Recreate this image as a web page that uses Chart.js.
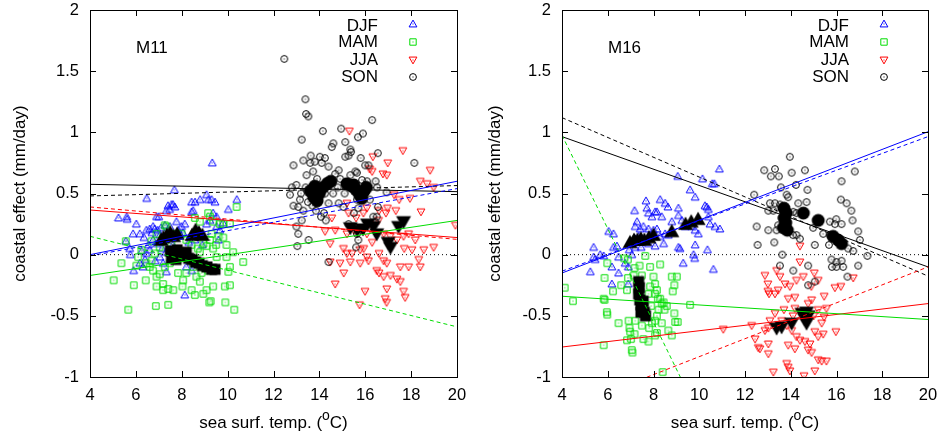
<!DOCTYPE html>
<html>
<head>
<meta charset="utf-8">
<script src="https://cdn.jsdelivr.net/npm/chart.js"></script>
<style>
  body { margin: 0; background: #fff; }
  .p { position: absolute; top: 0; height: 437px; }
</style>
</head>
<body>
<div class="p" style="left:0;width:475px"><canvas id="c1" width="475" height="437"></canvas></div>
<div class="p" style="left:475px;width:474px"><canvas id="c2" width="474" height="437"></canvas></div>
<script>
const xTicks = [4, 6, 8, 10, 12, 14, 16, 18, 20];
const yTicks = [-1, -0.5, 0, 0.5, 1, 1.5, 2];
const seasons = ['DJF', 'MAM', 'JJA', 'SON'];
const fitX = [4, 20];

// ---- M11 ----
const m11Djf = [[9.33,0.75],[7.68,0.53],[6.47,0.46],[5.24,0.30],[5.60,0.31],[5.62,0.29],[6.02,0.25],[5.88,0.17],[6.17,0.17],[5.56,0.11],[5.73,0.05],[5.76,0.00],[5.90,-0.13],[6.46,0.20],[6.60,0.21],[6.75,0.23],[6.82,0.21],[6.90,0.31],[7.00,0.31],[7.33,0.36],[7.40,0.40],[7.47,0.37],[7.55,0.41],[7.62,0.41],[7.70,0.39],[8.43,0.43],[8.58,0.43],[8.80,0.45],[9.08,0.49],[9.16,0.45],[9.30,0.45],[9.45,0.43],[8.43,0.35],[8.50,0.36],[9.37,0.34],[9.52,0.31],[10.03,0.37],[10.40,0.45],[7.99,0.23],[8.13,0.25],[7.77,0.27],[7.26,0.24],[7.48,0.23],[6.75,0.12],[6.90,0.09],[6.60,0.04],[6.46,0.01],[6.17,-0.07],[6.31,-0.10],[7.04,-0.02],[7.19,-0.07],[7.33,-0.14],[8.20,-0.10],[8.43,-0.13],[8.13,-0.33],[8.57,0.12],[8.79,0.17],[9.08,0.25],[9.23,0.28],[9.52,0.23],[9.66,0.20],[8.64,0.20],[7.92,0.17],[7.04,0.16],[6.35,0.14],[6.55,0.08],[7.15,0.05],[7.60,0.08],[8.30,0.10],[9.80,0.26],[6.25,0.03],[6.70,0.18],[6.95,0.20],[7.10,0.22],[7.85,0.20],[8.05,0.18],[7.30,0.02],[6.85,-0.05],[6.40,-0.04],[8.90,0.08],[9.60,0.12]];
const m11Mam = [[10.39,0.39],[10.68,-0.06],[10.29,-0.45],[9.90,-0.39],[9.20,-0.39],[9.26,-0.38],[7.41,-0.41],[6.87,-0.42],[5.67,-0.45],[5.03,-0.21],[5.37,-0.07],[5.91,-0.25],[6.02,-0.09],[6.43,-0.21],[6.10,-0.02],[6.24,0.04],[5.56,0.11],[6.68,0.11],[6.90,0.17],[7.26,0.24],[7.33,0.23],[8.57,0.30],[8.79,0.27],[9.15,0.34],[9.23,0.31],[9.37,0.27],[9.81,0.25],[10.10,0.25],[9.60,0.15],[9.81,0.14],[9.95,0.08],[10.24,0.02],[9.95,-0.02],[9.52,-0.02],[10.10,-0.10],[10.03,-0.14],[9.88,-0.26],[10.10,-0.25],[9.37,-0.26],[9.08,-0.29],[8.94,-0.32],[8.57,-0.33],[8.43,-0.29],[8.03,-0.26],[7.84,-0.15],[8.20,-0.15],[8.06,-0.21],[6.90,-0.26],[7.19,-0.29],[7.41,-0.28],[7.63,-0.29],[7.19,-0.24],[6.90,-0.18],[6.75,-0.13],[7.04,-0.16],[6.46,-0.07],[6.60,-0.10],[7.26,-0.10],[7.48,-0.07],[8.50,-0.10],[8.64,-0.18],[8.79,-0.22],[8.86,-0.15],[9.00,-0.11],[9.15,-0.13],[8.79,0.02],[9.08,0.07],[9.23,0.12],[8.94,0.09],[9.37,0.05],[9.30,0.17],[8.20,0.12],[8.42,0.08],[7.99,0.17],[7.63,0.17],[7.55,0.09],[7.19,0.13],[7.04,0.06],[6.82,0.01],[6.68,-0.05],[7.48,0.01],[9.66,0.25],[8.70,0.05],[9.50,0.08]];
const m11Jja = [[15.31,1.01],[17.64,0.85],[16.33,0.80],[16.98,0.75],[16.19,0.70],[16.30,0.68],[16.77,0.66],[16.94,0.65],[18.83,0.69],[18.40,0.60],[18.70,0.58],[18.98,0.55],[17.95,0.46],[17.26,0.49],[17.48,0.45],[16.97,0.38],[17.33,0.36],[18.43,0.35],[19.93,0.24],[16.60,0.36],[16.90,0.34],[16.58,0.28],[16.07,0.38],[15.92,0.34],[15.20,0.42],[15.27,0.34],[14.54,0.30],[14.25,0.19],[14.69,0.20],[15.20,0.17],[15.50,0.20],[15.85,0.20],[16.07,0.17],[16.80,0.17],[17.09,0.15],[17.38,0.12],[17.67,0.15],[17.89,0.17],[18.18,0.12],[18.55,0.04],[18.98,0.06],[18.04,0.04],[18.33,-0.04],[17.53,-0.10],[17.89,-0.10],[18.40,-0.10],[14.47,0.09],[14.47,-0.06],[14.90,-0.07],[15.35,-0.06],[15.06,-0.15],[14.69,-0.24],[15.78,-0.07],[16.07,-0.02],[16.14,-0.05],[15.78,0.04],[15.93,0.05],[16.60,0.01],[16.80,-0.05],[16.94,-0.07],[16.50,-0.13],[16.60,-0.15],[16.80,-0.18],[17.10,-0.17],[17.38,-0.20],[17.53,-0.22],[15.99,-0.30],[16.94,-0.28],[16.87,-0.36],[16.93,-0.39],[17.67,-0.30],[17.74,-0.35],[15.75,-0.41],[15.05,0.05],[15.20,0.01],[15.42,0.01],[16.30,0.10],[17.70,0.05],[15.60,0.30],[16.20,0.25]];
const m11Son = [[12.47,1.60],[13.39,1.27],[13.42,1.15],[13.52,1.13],[13.23,0.94],[14.15,1.01],[14.95,1.03],[16.30,1.10],[15.68,0.96],[15.90,0.99],[15.13,0.92],[14.61,0.91],[14.54,0.88],[15.35,0.86],[15.38,0.84],[16.55,0.83],[18.14,0.75],[13.62,0.81],[14.02,0.80],[14.24,0.79],[15.13,0.80],[15.27,0.81],[12.87,0.73],[13.30,0.77],[13.60,0.75],[13.80,0.76],[14.10,0.75],[14.40,0.72],[15.80,0.79],[16.00,0.73],[16.14,0.73],[13.73,0.68],[13.44,0.65],[13.00,0.57],[12.80,0.55],[12.72,0.49],[12.87,0.40],[13.08,0.39],[13.30,0.36],[13.23,0.28],[13.00,0.23],[13.08,0.17],[13.04,0.07],[13.53,0.12],[14.40,-0.06],[14.69,0.66],[14.84,0.69],[14.91,0.62],[15.35,0.65],[15.57,0.68],[15.64,0.67],[15.86,0.61],[16.00,0.57],[16.08,0.60],[16.45,0.60],[16.52,0.55],[16.93,0.51],[16.55,0.39],[16.50,0.31],[15.64,0.45],[15.70,0.38],[14.84,0.42],[15.05,0.39],[15.50,0.34],[15.27,0.25],[15.50,0.23],[15.64,0.17],[15.70,0.12],[15.60,0.06],[13.50,0.43],[13.70,0.40],[13.85,0.36],[14.07,0.31],[14.28,0.28],[14.20,0.34],[14.40,0.42],[14.60,0.50],[16.35,0.31],[16.43,0.27],[13.20,0.50],[13.40,0.55],[14.30,0.60],[14.25,0.50],[13.90,0.62],[14.80,0.55],[15.10,0.50],[16.20,0.45],[13.15,0.45]];
const m11DjfMean = [[7.10,0.12],[7.20,0.14],[7.35,0.16],[7.50,0.18],[7.65,0.15],[7.80,0.17],[8.45,0.16],[8.60,0.20],[8.75,0.18],[8.90,0.16]];
const m11MamMean = [[7.50,0.03],[7.55,-0.03],[7.65,0.00],[7.75,-0.04],[7.80,0.04],[7.95,0.01],[8.10,-0.01],[8.20,0.02],[8.30,-0.03],[8.45,-0.04],[8.60,-0.06],[8.75,-0.07],[8.90,-0.09],[9.10,-0.10],[9.30,-0.12],[9.45,-0.12]];
const m11JjaMean = [[15.35,0.22],[15.65,0.20],[15.90,0.21],[16.10,0.25],[16.36,0.23],[16.50,0.17],[17.00,0.10],[17.10,0.06],[17.45,0.23],[17.67,0.27]];
const m11SonMean = [[13.60,0.52],[13.75,0.47],[13.80,0.56],[13.90,0.44],[14.00,0.50],[14.15,0.55],[14.35,0.58],[14.50,0.60],[15.20,0.58],[15.40,0.56],[15.50,0.57],[15.60,0.53],[15.75,0.49],[15.85,0.46],[15.95,0.52],[16.05,0.55]];
// fitted lines, value at x=4 and x=20, in season order
const m11FitSolid = [[0.00,0.60],[-0.17,0.28],[0.365,0.14],[0.575,0.515]];
const m11FitDash = [[-0.01,0.54],[0.15,-0.59],[0.39,0.125],[0.48,0.565]];

// ---- M16 ----
const m16Djf = [[10.88,0.70],[10.14,0.62],[9.06,0.64],[10.57,0.58],[10.66,0.58],[9.60,0.53],[9.82,0.47],[8.29,0.45],[8.51,0.42],[8.63,0.39],[7.67,0.44],[7.71,0.38],[7.17,0.36],[8.07,0.35],[8.15,0.35],[9.09,0.38],[10.25,0.40],[10.33,0.39],[10.40,0.37],[7.78,0.34],[7.93,0.31],[8.36,0.31],[9.09,0.32],[8.80,0.27],[7.28,0.27],[7.20,0.23],[7.42,0.21],[7.56,0.23],[7.78,0.21],[8.00,0.20],[8.15,0.21],[7.20,0.13],[7.35,0.15],[8.51,0.17],[8.65,0.16],[9.24,0.28],[9.38,0.23],[9.67,0.23],[9.82,0.20],[9.96,0.17],[10.40,0.31],[10.47,0.25],[10.69,0.23],[10.90,0.21],[10.36,0.04],[9.82,0.08],[9.75,0.00],[9.80,-0.03],[9.09,0.06],[9.16,0.05],[9.30,-0.07],[10.62,-0.12],[8.44,0.09],[8.29,0.15],[8.07,0.07],[7.78,0.09],[7.46,0.06],[6.94,0.04],[7.05,0.00],[7.20,0.06],[6.25,0.17],[6.04,0.19],[6.25,0.06],[6.40,0.07],[5.38,0.06],[5.67,0.00],[5.82,-0.01],[5.38,-0.02],[5.45,-0.04],[6.18,-0.10],[5.24,-0.14],[6.47,-0.15],[6.18,-0.24],[6.90,-0.24],[6.76,-0.07],[6.90,-0.10],[6.47,-0.02]];
const m16Mam = [[4.12,-0.27],[4.48,-0.38],[5.86,-0.19],[5.98,-0.07],[5.82,-0.36],[5.86,-0.37],[5.96,-0.47],[5.98,-0.49],[5.82,-0.74],[6.23,-0.30],[6.47,-0.56],[6.59,-0.25],[6.72,-0.03],[6.88,-0.04],[7.17,-0.11],[7.13,-0.17],[6.88,-0.19],[6.84,-0.29],[6.91,-0.54],[6.95,-0.60],[6.98,-0.63],[7.02,-0.69],[7.05,-0.78],[7.08,-0.80],[6.84,-0.70],[7.20,-0.54],[7.17,-0.65],[7.49,-0.58],[7.56,-0.69],[7.78,-0.71],[7.81,-0.60],[7.64,-0.01],[7.39,-0.09],[7.49,-0.17],[7.85,-0.10],[8.00,-0.18],[8.29,-0.08],[8.07,-0.24],[8.15,-0.29],[8.07,-0.32],[8.19,-0.36],[7.85,-0.26],[7.78,-0.32],[8.29,-0.36],[8.36,-0.40],[8.44,-0.39],[8.48,-0.45],[8.58,-0.42],[8.22,-0.45],[8.15,-0.50],[8.07,-0.54],[7.93,-0.56],[8.36,-0.56],[8.15,-0.64],[8.07,-0.66],[8.80,-0.18],[9.02,-0.18],[8.91,-0.25],[8.84,-0.30],[8.91,-0.48],[8.95,-0.55],[9.06,-0.55],[8.65,-0.62],[8.80,-0.66],[9.60,-0.41],[8.40,-0.96],[7.30,-0.30],[7.90,-0.42],[7.70,-0.50]];
const m16Jja = [[14.40,0.07],[14.40,-0.06],[12.87,-0.17],[13.00,-0.24],[13.38,-0.13],[13.53,-0.18],[13.75,-0.24],[13.96,-0.26],[14.25,-0.21],[14.55,-0.18],[15.03,-0.15],[15.20,-0.21],[14.90,-0.26],[15.93,-0.27],[16.19,-0.26],[16.73,-0.19],[13.00,-0.30],[13.05,-0.32],[13.45,-0.29],[13.31,-0.32],[13.89,-0.36],[14.18,-0.35],[14.76,-0.40],[14.91,-0.37],[15.46,-0.34],[15.56,-0.44],[15.46,-0.51],[15.35,-0.56],[15.97,-0.63],[14.18,-0.44],[14.40,-0.47],[14.55,-0.48],[13.31,-0.48],[13.09,-0.54],[12.87,-0.62],[13.02,-0.60],[12.29,-0.58],[11.05,-0.61],[12.44,-0.69],[12.65,-0.77],[12.58,-0.76],[13.02,-0.73],[13.60,-0.54],[13.82,-0.58],[14.04,-0.62],[14.25,-0.67],[13.89,-0.74],[14.40,-0.70],[14.62,-0.71],[14.84,-0.73],[14.76,-0.78],[14.91,-0.80],[14.18,-0.77],[15.05,-0.63],[15.20,-0.67],[15.42,-0.65],[15.20,-0.86],[15.35,-0.87],[15.56,-0.87],[15.05,-0.95],[13.82,-0.89],[13.89,-0.92],[13.96,-0.95],[13.24,-0.96],[14.58,-0.99],[13.02,-0.81],[13.70,-0.45],[14.10,-0.50],[15.00,-0.50],[15.20,-0.45]];
const m16Son = [[13.96,0.80],[13.31,0.70],[13.13,0.64],[12.84,0.69],[13.48,0.64],[14.04,0.67],[14.62,0.69],[16.80,0.68],[16.22,0.60],[14.23,0.57],[13.57,0.55],[14.73,0.53],[12.40,0.49],[13.82,0.49],[13.89,0.47],[16.19,0.45],[16.44,0.42],[13.09,0.42],[13.31,0.42],[13.53,0.41],[14.33,0.42],[14.69,0.43],[16.65,0.36],[13.02,0.36],[13.24,0.36],[14.11,0.35],[14.25,0.34],[15.99,0.29],[16.70,0.28],[15.71,0.27],[15.93,0.25],[16.22,0.25],[12.51,0.23],[13.02,0.20],[13.45,0.24],[13.38,0.20],[13.89,0.21],[14.10,0.16],[14.25,0.16],[14.40,0.13],[14.98,0.22],[16.95,0.19],[15.42,0.17],[15.71,0.16],[17.02,0.12],[12.55,0.08],[13.28,0.10],[15.05,0.08],[15.67,0.08],[16.51,0.05],[16.73,0.03],[17.35,-0.01],[13.63,0.00],[15.78,-0.04],[16.00,-0.06],[16.22,-0.05],[15.80,-0.10],[16.00,-0.10],[16.29,-0.10],[16.95,-0.09],[13.53,-0.09],[14.11,-0.13],[14.76,-0.09],[16.48,-0.18],[14.76,-0.25],[15.05,-0.22],[13.70,0.25],[13.60,0.30]];
const m16DjfMean = [[6.97,0.10],[7.15,0.12],[7.30,0.12],[7.45,0.13],[7.60,0.12],[7.80,0.14],[8.00,0.16],[8.80,0.19],[9.40,0.25],[9.65,0.27],[9.95,0.29]];
const m16MamMean = [[7.35,-0.22],[7.38,-0.27],[7.35,-0.32],[7.40,-0.37],[7.45,-0.41],[7.50,-0.44],[7.55,-0.38],[7.45,-0.47],[7.60,-0.47],[7.65,-0.50]];
const m16JjaMean = [[13.38,-0.60],[13.60,-0.59],[14.04,-0.56],[14.50,-0.48],[14.69,-0.47],[14.76,-0.50],[14.69,-0.56],[14.60,-0.52]];
const m16SonMean = [[13.70,0.38],[13.80,0.34],[13.72,0.30],[13.78,0.26],[13.68,0.22],[13.85,0.20],[14.55,0.34],[15.20,0.28],[15.85,0.15],[16.07,0.12],[16.22,0.09]];
const m16FitSolid = [[-0.15,1.005],[-0.34,-0.53],[-0.755,-0.40],[0.965,-0.10]];
const m16FitDash = [[-0.135,0.965],[0.977,-5.14],[-1.274,-0.10],[1.12,-0.175]];

const colors = ['#0000ff', '#00dd00', '#ff0000', '#000000'];
const kinds = ['up', 'sq', 'down', 'ci'];
const FONT = '"Liberation Sans", Arial, Helvetica, sans-serif';

function marker(kind, color, big) {
  const s = big ? 18 : 10;
  const c = document.createElement('canvas');
  c.width = s; c.height = s;
  const g = c.getContext('2d');
  const h = s / 2;
  g.strokeStyle = color; g.fillStyle = color; g.lineWidth = 1;
  g.beginPath();
  if (kind == 'up') {
    const r = big ? 7.5 : 3.9;
    g.moveTo(h, h - r); g.lineTo(h + r, h + r * 0.75); g.lineTo(h - r, h + r * 0.75); g.closePath();
  } else if (kind == 'down') {
    const r = big ? 7.5 : 3.9;
    g.moveTo(h, h + r); g.lineTo(h + r, h - r * 0.75); g.lineTo(h - r, h - r * 0.75); g.closePath();
  } else if (kind == 'sq') {
    const r = big ? 5.5 : 3.2;
    g.rect(h - r, h - r, 2 * r, 2 * r);
  } else {
    g.arc(h, h, big ? 6.5 : 3.4, 0, Math.PI * 2);
  }
  if (big) {
    g.fill();
  } else {
    g.stroke();
    g.fillRect(h - 0.5, h - 0.5, 1, 1);
  }
  return c;
}

const small = kinds.map((k, i) => marker(k, colors[i], false));
const large = kinds.map(k => marker(k, '#000', true));

const deco = {
  id: 'deco',
  afterDatasetsDraw(ch) {
    const ctx = ch.ctx, a = ch.chartArea, x = ch.scales.x, y = ch.scales.y;
    ctx.save();
    ctx.strokeStyle = '#000';
    ctx.lineWidth = 1;
    ctx.beginPath();
    xTicks.forEach(v => {
      const p = Math.round(x.getPixelForValue(v)) + 0.5;
      ctx.moveTo(p, a.bottom); ctx.lineTo(p, a.bottom - 6);
      ctx.moveTo(p, a.top); ctx.lineTo(p, a.top + 6);
    });
    yTicks.forEach(v => {
      const p = Math.round(y.getPixelForValue(v)) + 0.5;
      ctx.moveTo(a.left, p); ctx.lineTo(a.left + 6, p);
      ctx.moveTo(a.right, p); ctx.lineTo(a.right - 6, p);
    });
    ctx.stroke();
    ctx.strokeRect(Math.round(a.left) + 0.5, Math.round(a.top) + 0.5, Math.round(a.right - a.left), Math.round(a.bottom - a.top));

    // legend
    ctx.fillStyle = '#000';
    ctx.font = '17px ' + FONT;
    ctx.textAlign = 'right';
    ctx.textBaseline = 'alphabetic';
    const base = [20.7, 37.3, 55, 71.7];
    const mk = [14, 32, 50, 66.7];
    seasons.forEach((s, i) => {
      ctx.fillText(s, a.right - 79, a.top + base[i]);
      const im = small[i];
      ctx.drawImage(im, Math.round(a.right - 44 - im.width / 2), Math.round(a.top + mk[i] - im.height / 2));
    });

    // panel label
    ctx.textAlign = 'left';
    ctx.fillText(ch.options.plugins.deco.label, a.left + 46, a.top + 42.7);

    // x axis title with superscript
    const p1 = 'sea surf. temp. (', p3 = 'C)';
    ctx.font = '17px ' + FONT;
    const w1 = ctx.measureText(p1).width, w3 = ctx.measureText(p3).width;
    ctx.font = '14px ' + FONT;
    const w2 = ctx.measureText('o').width;
    const tot = w1 + w2 + w3;
    const sx = (a.left + a.right) / 2 - tot / 2;
    const by = 428;
    ctx.font = '17px ' + FONT;
    ctx.fillText(p1, sx, by);
    ctx.font = '14px ' + FONT;
    ctx.fillText('o', sx + w1, by - 8);
    ctx.font = '17px ' + FONT;
    ctx.fillText(p3, sx + w1 + w2, by);
    ctx.restore();
  }
};

function build(id, label, pts, means, solid, dash, leftW, rightPad) {
  const ds = [];
  ds.push({
    data: fitX.map(v => ({ x: v, y: 0 })), showLine: true, pointRadius: 0,
    borderColor: '#000', borderWidth: 1, borderDash: [1, 3], order: 0
  });
  for (let i = 0; i < 4; i++) {
    ds.push({
      data: fitX.map((v, j) => ({ x: v, y: solid[i][j] })), showLine: true, pointRadius: 0,
      borderColor: colors[i], borderWidth: 1, order: 0
    });
    ds.push({
      data: fitX.map((v, j) => ({ x: v, y: dash[i][j] })), showLine: true, pointRadius: 0,
      borderColor: colors[i], borderWidth: 1, borderDash: [4, 3], order: 0
    });
  }
  for (let i = 0; i < 4; i++) {
    ds.push({
      data: means[i].map(p => ({ x: p[0], y: p[1] })), pointStyle: large[i], pointRadius: 7, order: 1
    });
  }
  for (let i = 0; i < 4; i++) {
    ds.push({
      data: pts[i].map(p => ({ x: p[0], y: p[1] })), pointStyle: small[i], pointRadius: 4, order: 5 - i
    });
  }
  return new Chart(document.getElementById(id), {
    type: 'scatter',
    data: { datasets: ds },
    options: {
      responsive: false,
      animation: false,
      events: [],
      layout: { padding: { top: 10, right: rightPad, left: 0, bottom: 0 } },
      plugins: { legend: { display: false }, tooltip: { enabled: false }, deco: { label: label } },
      scales: {
        x: {
          type: 'linear', min: 4, max: 20,
          grid: { display: false, drawTicks: false },
          border: { display: false },
          afterBuildTicks: s => { s.ticks = xTicks.map(v => ({ value: v })); },
          afterFit: s => { s.height = 60; s.paddingLeft = 0; s.paddingRight = 0; },
          ticks: { color: '#000', padding: 9, font: { family: FONT, size: 16.5 }, callback: v => String(v) }
        },
        y: {
          type: 'linear', min: -1, max: 2,
          grid: { display: false, drawTicks: false },
          border: { display: false },
          afterBuildTicks: s => { s.ticks = yTicks.map(v => ({ value: v })); },
          afterFit: s => { s.width = leftW; s.paddingTop = 0; s.paddingBottom = 0; },
          ticks: { color: '#000', padding: 11, font: { family: FONT, size: 16.5 }, callback: v => String(v) },
          title: { display: true, text: 'coastal effect (mm/day)', color: '#000', font: { family: FONT, size: 17 }, padding: { top: 10, bottom: 0 } }
        }
      }
    },
    plugins: [deco]
  });
}

build('c1', 'M11', [m11Djf, m11Mam, m11Jja, m11Son], [m11DjfMean, m11MamMean, m11JjaMean, m11SonMean], m11FitSolid, m11FitDash, 90, 18);
build('c2', 'M16', [m16Djf, m16Mam, m16Jja, m16Son], [m16DjfMean, m16MamMean, m16JjaMean, m16SonMean], m16FitSolid, m16FitDash, 87, 21);
</script>
</body>
</html>
